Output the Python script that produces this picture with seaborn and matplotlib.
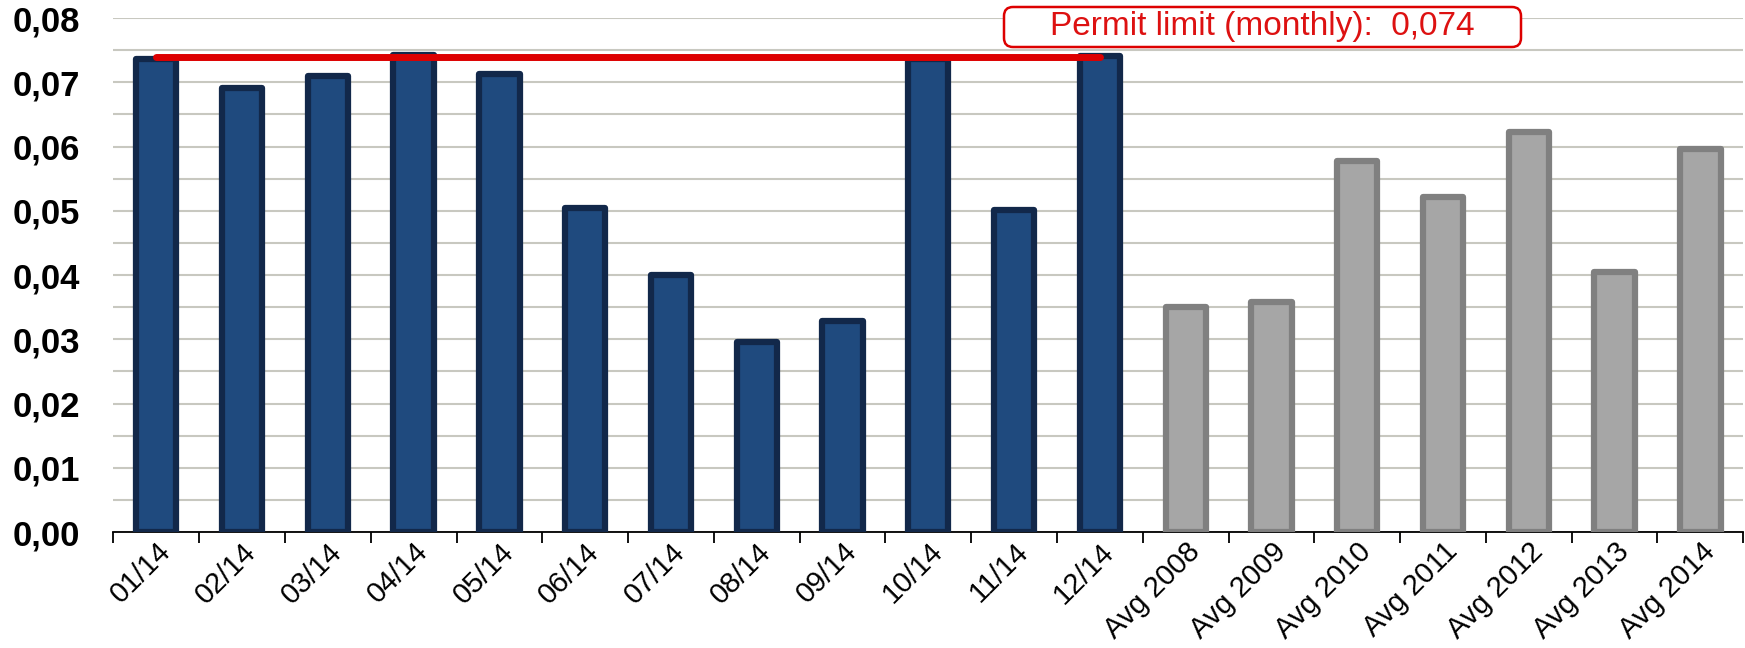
import matplotlib
matplotlib.use('Agg')
import matplotlib.pyplot as plt
import matplotlib.ticker as mticker
from matplotlib.patches import FancyBboxPatch
from matplotlib.transforms import IdentityTransform
import numpy as np
import pandas as pd
import seaborn as sns

months = ['01/14', '02/14', '03/14', '04/14', '05/14', '06/14', '07/14', '08/14',
          '09/14', '10/14', '11/14', '12/14']
month_values = [0.0736, 0.0691, 0.0710, 0.0743, 0.0713, 0.0504, 0.0400, 0.0296,
                0.0329, 0.0736, 0.0502, 0.0741]
years = ['Avg 2008', 'Avg 2009', 'Avg 2010', 'Avg 2011', 'Avg 2012', 'Avg 2013', 'Avg 2014']
year_values = [0.0350, 0.0358, 0.0577, 0.0521, 0.0623, 0.0405, 0.0596]
permit_limit = 0.074
limit_label = 'Permit limit (monthly):  0,074'

df = pd.DataFrame({
    'label': months + years,
    'value': month_values + year_values,
    'group': ['month'] * len(months) + ['avg'] * len(years),
})

fills = {'month': '#1f4a7e', 'avg': '#a6a6a6'}
edges = {'month': '#12284a', 'avg': '#808080'}

sns.set_theme(style='white')
plt.rcParams['font.family'] = ['Liberation Sans', 'DejaVu Sans']

fig = plt.figure(figsize=(17.45, 6.48), dpi=100)
ax = fig.add_axes([0.065, 0.179, 0.934, 0.793])

sns.barplot(data=df, x='label', y='value', hue='group', palette=fills,
            saturation=1, dodge=False, width=0.47, legend=False, ax=ax, zorder=3)

# edge colours per group
n = len(df)
for patch in ax.patches:
    cx = patch.get_x() + patch.get_width() / 2
    i = int(round(cx))
    if 0 <= i < n and patch.get_height() > 0:
        g = df['group'][i]
        patch.set_edgecolor(edges[g])
        patch.set_linewidth(4.5)
        patch.set_joinstyle('round')

# permit limit line across the monthly bars
ax.plot([0, len(months) - 1], [permit_limit, permit_limit], color='#dd0000',
        linewidth=5, solid_capstyle='round', zorder=5)

# label box (pixel coords, wide rounded box like the original)
box = FancyBboxPatch((1004, 601), 517, 40, boxstyle='round,pad=0,rounding_size=9',
                     transform=IdentityTransform(), facecolor='white',
                     edgecolor='#dd0000', linewidth=1.8, zorder=6)
fig.patches.append(box)
fig.text(1262 / 1745, 1 - 27 / 648, limit_label, color='#dd1111', fontsize=24,
         ha='center', va='center', zorder=7)

ax.set_xlim(-0.5, n - 0.5)
ax.set_ylim(0, 0.08)
ax.yaxis.set_major_locator(mticker.MultipleLocator(0.01))
ax.yaxis.set_minor_locator(mticker.MultipleLocator(0.005))
ax.yaxis.set_major_formatter(mticker.FuncFormatter(lambda v, p: f'{v:.2f}'.replace('.', ',')))
ax.grid(axis='y', which='both', color='#c8c8c0', linewidth=1.5, zorder=0)
ax.set_axisbelow(True)

ax.set_xticks(np.arange(n))
ax.set_xticklabels(df['label'], rotation=45, ha='right', rotation_mode='anchor',
                   fontsize=21, color='black')
ax.set_xticks(np.arange(n + 1) - 0.5, minor=True)
ax.tick_params(axis='x', which='major', length=0, pad=4)
ax.tick_params(axis='x', which='minor', length=8, width=1.3, color='black', bottom=True)
ax.tick_params(axis='y', which='both', length=0, pad=24, labelcolor='black')
for t in ax.get_yticklabels():
    t.set_fontweight('bold')
    t.set_fontsize(25)

ax.set_xlabel('')
ax.set_ylabel('')
for s in ['top', 'right', 'left']:
    ax.spines[s].set_visible(False)
ax.spines['bottom'].set_color('black')
ax.spines['bottom'].set_linewidth(1.3)

fig.savefig('out.png', dpi=100)
